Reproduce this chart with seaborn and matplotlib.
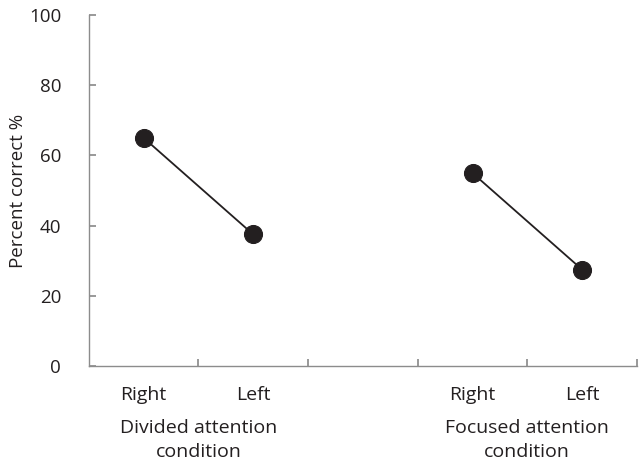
import pandas as pd
import matplotlib.pyplot as plt
import seaborn as sns

# Dados
slots = ["Right", "Left", "", "Right", "Left"]
conditions = ["Divided attention\ncondition", "Focused attention\ncondition"]
divided = [65, 37.5]
focused = [55, 27.5]

df = pd.DataFrame({
    "pos": [0, 1, 3, 4],
    "value": divided + focused,
    "cond": [conditions[0]] * 2 + [conditions[1]] * 2,
})

sns.set_theme(style="white")
plt.rcParams["font.family"] = ["Open Sans", "DejaVu Sans"]
ink = "#231f20"
gray = "#8c8c8c"

fig = plt.figure(figsize=(6.44, 4.70), dpi=100)
ax = fig.add_axes([0.138, 0.221, 0.851, 0.747])

for c in conditions:
    sns.lineplot(data=df[df["cond"] == c], x="pos", y="value", ax=ax,
                 color=ink, lw=1.3, marker="o", markersize=13,
                 markeredgecolor=ink, markerfacecolor=ink, legend=False)

ax.set_xlim(-0.5, len(slots) - 0.5)
ax.set_ylim(0, 100)
ax.set_yticks(range(0, 101, 20))
ax.set_xticks([i + 0.5 for i in range(len(slots))])
ax.set_xticklabels([])
ax.tick_params(axis="y", direction="in", length=5, color=gray, labelsize=13.5,
               labelcolor=ink, pad=20, left=True)
ax.tick_params(axis="x", direction="in", length=5, color=gray, bottom=True)

for s in ["top", "right"]:
    ax.spines[s].set_visible(False)
for s in ["left", "bottom"]:
    ax.spines[s].set_color(gray)
    ax.spines[s].set_linewidth(1.0)

ax.set_xlabel("")
ax.set_ylabel("Percent correct %", fontsize=13.5, color=ink, va="center")
ax.yaxis.set_label_coords(-0.13, 0.5)

# rótulos das categorias e grupos
trans = ax.get_xaxis_transform()
for i, lab in enumerate(slots):
    if lab:
        ax.text(i, -0.083, lab, transform=trans, ha="center", va="center",
                fontsize=14, color=ink)
ax.text(0.5, -0.21, conditions[0], transform=trans, ha="center", va="center",
        fontsize=14, color=ink, linespacing=1.4)
ax.text(3.5, -0.21, conditions[1], transform=trans, ha="center", va="center",
        fontsize=14, color=ink, linespacing=1.4)

fig.savefig("out.png", dpi=100)
